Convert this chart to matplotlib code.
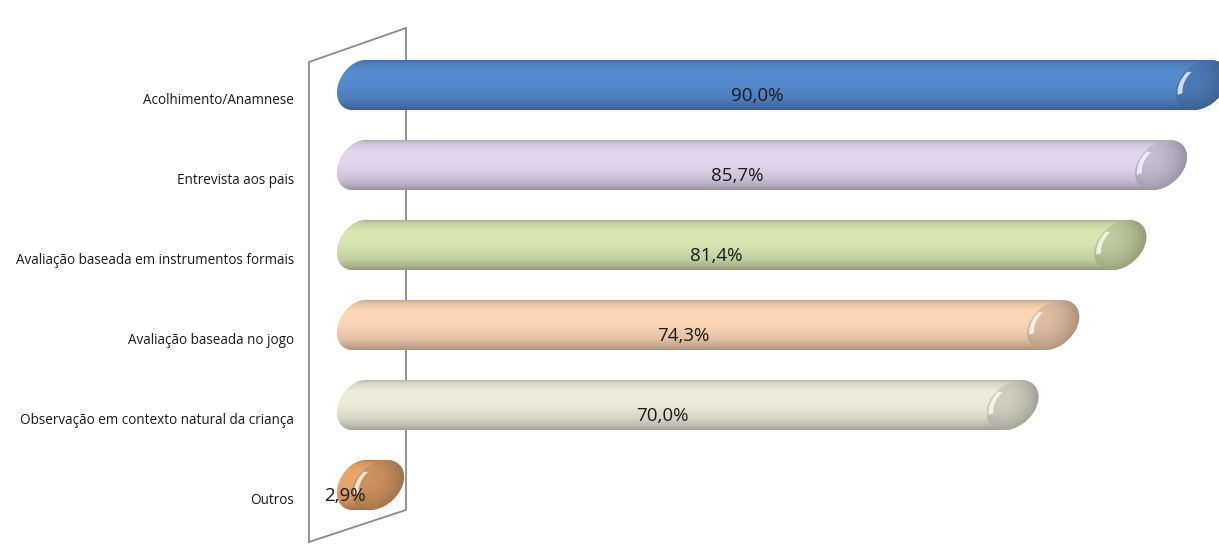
import numpy as np
import matplotlib.pyplot as plt
from matplotlib.patches import PathPatch, Polygon
from matplotlib.path import Path
from matplotlib.colors import to_rgb

plt.rcParams['font.family'] = ['Open Sans', 'DejaVu Sans']

categorias = ['Acolhimento/Anamnese', 'Entrevista aos pais',
              'Avaliação baseada em instrumentos formais',
              'Avaliação baseada no jogo',
              'Observação em contexto natural da criança', 'Outros']
valores = [90.0, 85.7, 81.4, 74.3, 70.0, 2.9]
rotulos = ['90,0%', '85,7%', '81,4%', '74,3%', '70,0%', '2,9%']
cores = ['#568bcf', '#e2d7ef', '#d8e7b2', '#fdd7b7', '#eeecda', '#e9a76d']

hh = 0.3125                        # meia altura do cilindro
esq = dict(c=0.87, a=2.2, s=0.7)   # extremidade esquerda
dir_ = dict(a=2.6, s=0.9)          # tampa direita

fig = plt.figure(figsize=(12.19, 5.45), dpi=100)
ax = fig.add_axes([0, 0, 1, 1])
ax.set_xlim(-37.07, 91.83)
ax.set_ylim(5.75, -1.0625)
ax.axis('off')

# parede do eixo das categorias
parede = Polygon([(-4.40, 5.7125), (-4.40, -0.2875), (5.86, -0.7125), (5.86, 5.3125)],
                 closed=True, fill=False, edgecolor='#8a8a8a', lw=1.3, zorder=1)
ax.add_patch(parede)


def elipse(cx, cy, th, a, s, k=1.0):
    # elipse inclinada (topo deslocado para a direita)
    return (cx + k * (a * np.cos(th) - s * np.sin(th)), cy + k * hh * np.sin(th))


def cilindro(v, y, cor):
    base = np.array(to_rgb(cor))
    a, s = dir_['a'], dir_['s']
    lx, ly = elipse(esq['c'], y, np.linspace(np.pi / 2, 3 * np.pi / 2, 60), esq['a'], esq['s'])
    rx, ry = elipse(v, y, np.linspace(-np.pi / 2, np.pi / 2, 60), a, s)
    path = Path(np.column_stack([np.concatenate([rx, lx]), np.concatenate([ry, ly])]))
    patch = PathPatch(path, facecolor='none', edgecolor='none', zorder=2)
    ax.add_patch(patch)

    ext = np.hypot(a, s)
    t = np.linspace(0, 1, 120)
    sombra = np.interp(t, [0, 0.05, 0.22, 0.5, 0.78, 0.92, 1.0],
                       [0.76, 0.9, 1.0, 0.99, 0.9, 0.78, 0.68])
    img = np.clip(base[None, None, :] * sombra[:, None, None], 0, 1)
    img = np.repeat(img, 2, axis=1)
    im = ax.imshow(img, extent=(-4, v + ext, y + hh, y - hh), origin='upper',
                   aspect='auto', interpolation='bicubic', zorder=2)
    im.set_clip_path(patch)

    # face da tampa direita
    fx, fy = elipse(v, y, np.linspace(0, 2 * np.pi, 120), a, s)
    face = Polygon(np.column_stack([fx, fy]), closed=True, facecolor='none',
                   edgecolor='none', zorder=3)
    ax.add_patch(face)
    gx, gy = np.meshgrid(np.linspace(-1, 1, 80), np.linspace(-1, 1, 80))
    tom = 0.85 - 0.09 * gx - 0.06 * gy - 0.1 * (gx ** 2 + gy ** 2)
    img2 = np.clip(base[None, None, :] * tom[:, :, None], 0, 1)
    im2 = ax.imshow(img2, extent=(v - ext, v + ext, y + hh, y - hh), origin='upper',
                    aspect='auto', interpolation='bicubic', zorder=3)
    im2.set_clip_path(face)

    # reflexo em forma de crescente
    th = np.linspace(np.radians(155), np.radians(215), 40)
    ox, oy = elipse(v, y, th, a, s, 0.93)
    ix, iy = elipse(v + 0.3, y - 0.01, th[::-1], a, s, 0.85)
    brilho = Polygon(np.column_stack([np.concatenate([ox, ix]), np.concatenate([oy, iy])]),
                     closed=True, facecolor='white', edgecolor='none', alpha=0.75, zorder=4)
    ax.add_patch(brilho)


for i, (v, cor) in enumerate(zip(valores, cores)):
    cilindro(v, i, cor)
    ax.text(-5.99, i + 0.2, categorias[i], ha='right', va='center',
            fontsize=9.75, color='#1a1a1a')
    ax.text(v / 2 - 2.0, i + 0.14, rotulos[i], ha='center', va='center',
            fontsize=13.5, color='#1a1a1a', zorder=5)

fig.savefig('out.png', dpi=100)
